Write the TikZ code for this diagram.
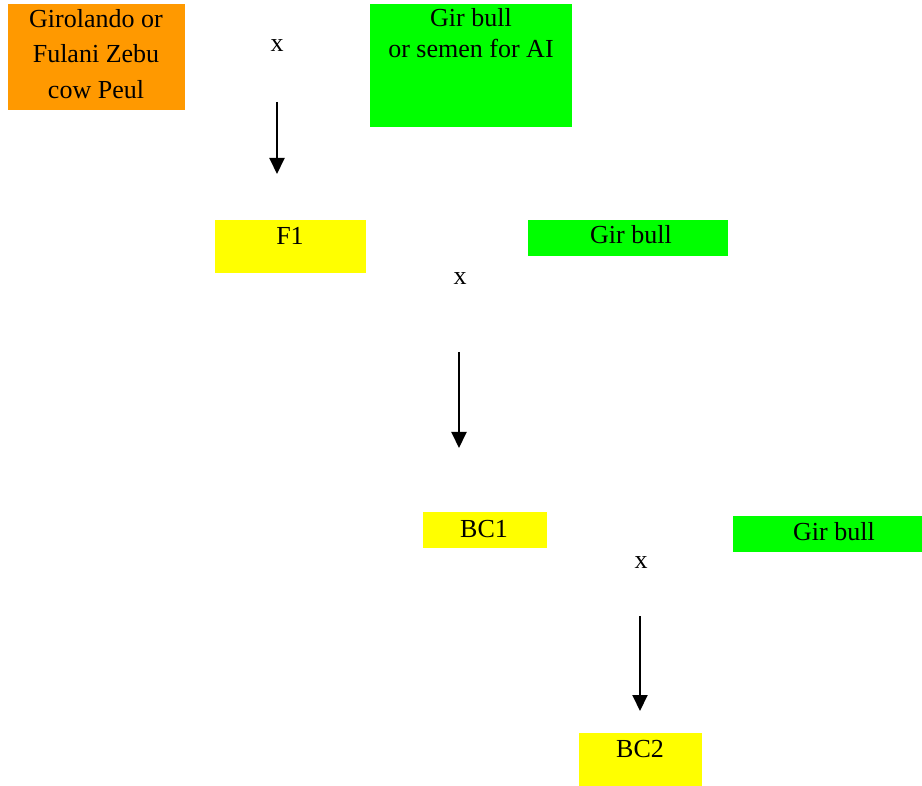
\documentclass[tikz,border=0pt]{standalone}
\usepackage{fontspec}
\setmainfont{Liberation Serif}
\usetikzlibrary{arrows.meta}
\definecolor{cowor}{HTML}{FF9900}
\definecolor{bullgr}{HTML}{00FF00}
\definecolor{hybye}{HTML}{FFFF00}
\tikzset{
  box/.style={draw=none, inner sep=0pt, outer sep=0pt, rectangle},
  txt/.style={inner sep=0pt, anchor=base, font=\fontsize{26}{30}\selectfont},
  cross/.style={-{Triangle[length=16pt,width=15pt]}, line width=2pt}
}
\begin{document}
\begin{tikzpicture}[x=1pt,y=-1pt]
\path[use as bounding box] (0,0) rectangle (922,786);
% boxes
\node[box, fill=cowor, minimum width=177pt, minimum height=106pt] (cow) at (96.5,57) {};
\node[box, fill=bullgr, minimum width=202pt, minimum height=123pt] (gir1) at (471,65.5) {};
\node[box, fill=hybye, minimum width=151pt, minimum height=53pt] (f1) at (290.5,246.5) {};
\node[box, fill=bullgr, minimum width=200pt, minimum height=36pt] (gir2) at (628,238) {};
\node[box, fill=hybye, minimum width=124pt, minimum height=36pt] (bc1) at (485,530) {};
\node[box, fill=bullgr, minimum width=192pt, minimum height=36pt] (gir3) at (829,534) {};
\node[box, fill=hybye, minimum width=123pt, minimum height=57pt] (bc2) at (640.5,761.5) {};
% texts
\node[txt] (cowt1) at (96,28) {Girolando or};
\node[txt] (cowt2) at (96,63) {Fulani Zebu};
\node[txt] (cowt3) at (96,99) {cow Peul};
\node[txt] (girt1) at (471,27) {Gir bull};
\node[txt] (girt2) at (471,58) {or semen for AI};
\node[txt] (x1) at (277,52) {x};
\node[txt] (f1t) at (290,245) {F1};
\node[txt] (gir2t) at (631,244) {Gir bull};
\node[txt] (x2) at (460,285) {x};
\node[txt] (bc1t) at (484,537) {BC1};
\node[txt] (gir3t) at (834,540) {Gir bull};
\node[txt] (x3) at (641,568) {x};
\node[txt] (bc2t) at (640,757) {BC2};
% arrows
\coordinate (a1s) at (277,102);
\coordinate (a1e) at (277,174);
\coordinate (a2s) at (459,352);
\coordinate (a2e) at (459,448);
\coordinate (a3s) at (640,616);
\coordinate (a3e) at (640,711);
\draw[cross] (a1s) -- (a1e);
\draw[cross] (a2s) -- (a2e);
\draw[cross] (a3s) -- (a3e);
\end{tikzpicture}
\end{document}
